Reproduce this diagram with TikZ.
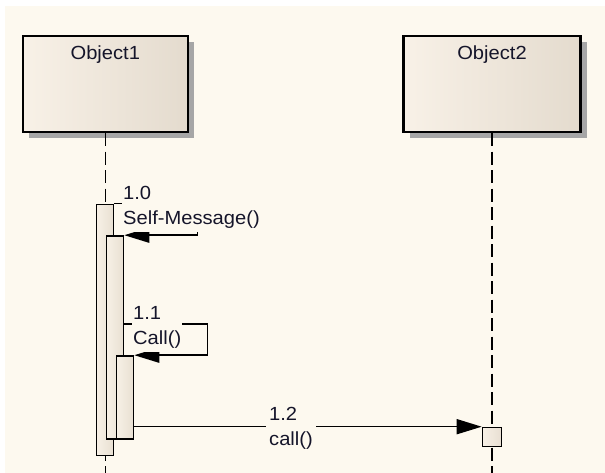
\documentclass[tikz,border=0pt]{standalone}
\usepackage{fontspec}
\setmainfont[FakeStretch=1.06]{Liberation Sans}
\usetikzlibrary{arrows.meta,shadows,calc}
\definecolor{bgc}{HTML}{FDF9EF}
\definecolor{boxl}{HTML}{F8F1E7}
\definecolor{boxr}{HTML}{E4DBCE}
\definecolor{actl}{HTML}{F7F0E6}
\definecolor{actr}{HTML}{E8DFD2}
\definecolor{shadowc}{HTML}{A6A6A6}
\definecolor{txt}{HTML}{15152A}
\begin{document}
\begin{tikzpicture}[x=1pt,y=-1pt,
  every node/.style={font=\fontsize{19}{25}\selectfont, text=txt},
  objbox/.style={draw=black, line width=2.2pt, left color=boxl, right color=boxr,
    minimum width=#1, minimum height=96pt, inner sep=0pt,
    drop shadow={shadow xshift=6pt, shadow yshift=-6pt, fill=shadowc, opacity=1}},
  actbar/.style={draw=black, line width=1.6pt, left color=actl, right color=actr,
    minimum width=17pt, inner sep=0pt},
  lifeline/.style={draw=black, line width=1.6pt, dash pattern=on 13pt off 5.5pt},
  msg/.style={draw=black, line width=1.5pt, -{Triangle[length=25pt,width=15pt]}},
  msglabel/.style={fill=bgc, align=left, inner xsep=1pt, inner ysep=3pt}
]
% background
\useasboundingbox (0,0) rectangle (605,473);
\fill[white] (0,0) rectangle (605,473);
\fill[bgc] (5,6) rectangle (605,473);

% objects
\node[objbox=165pt] (o1) at (105.3,84.1) {};
\node[objbox=177pt] (o2) at (492,84.1) {};
\node[anchor=base] (t1) at ($(o1.north)+(0,24.5)$) {Object1};
\node[anchor=base] (t2) at ($(o2.north)+(0,24.5)$) {Object2};

% lifelines
\coordinate (e1) at (o1.south |- 0,473);
\coordinate (e2) at (o2.south |- 0,473);
\draw[lifeline] (o1.south) -- (e1);
\draw[lifeline] (o2.south) -- (e2);

% activations
\node[actbar, minimum height=251pt] (a1) at (105,330) {};
\node[actbar, minimum height=203pt] (a2) at (115,337.5) {};
\node[actbar, minimum height=83pt] (a3) at (125,397.5) {};
\node[draw=black, line width=1.6pt, left color=actl, right color=actr,
      minimum width=19pt, minimum height=19pt, inner sep=0pt] (b2) at (492,437) {};

% messages
\draw[msg] (a1.north east) -- ++(83,0) |- (a2.north east);
\draw[msg] ($(a2.north east)+(0,89)$) -- ++(83,0) |- (a3.north east);
\draw[msg] (a3.east |- b2.north west) -- (b2.north west);

% labels
\node[msglabel, anchor=west] (l1) at (122,207.5) {1.0\\Self-Message()};
\node[msglabel, anchor=west, inner xsep=1pt] (l2) at (132,327.5) {1.1\\Call()};
\node[msglabel, anchor=center, inner xsep=3.5pt] (l3) at (291,428) {1.2\\call()};
\end{tikzpicture}
\end{document}
